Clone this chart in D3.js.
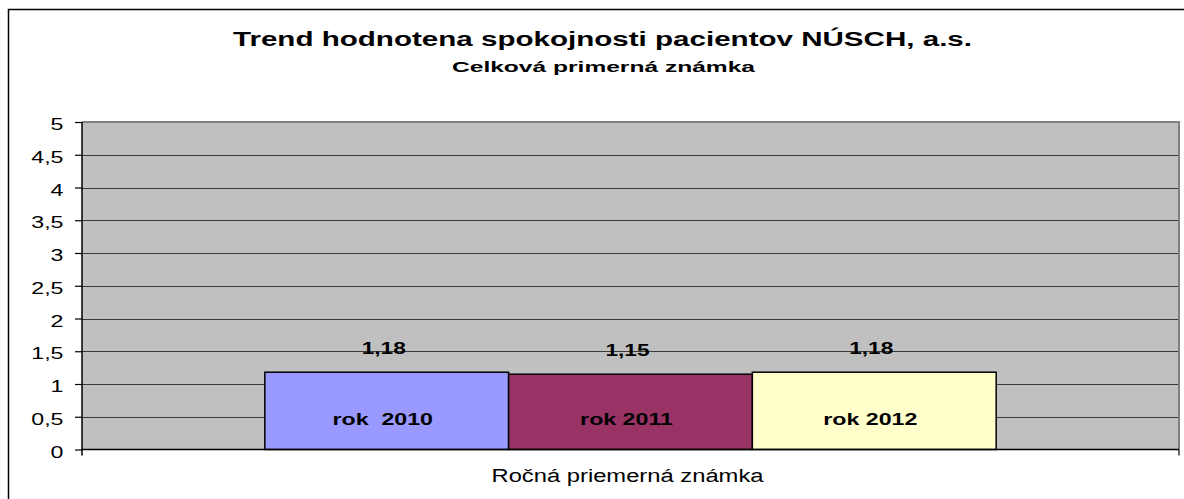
<!DOCTYPE html>
<html>
<head>
<meta charset="utf-8">
<script src="https://cdn.jsdelivr.net/npm/d3@7"></script>
<style>
  html, body { margin: 0; padding: 0; background: #fff; }
  svg { display: block; font-family: "Liberation Sans", Arial, sans-serif; }
</style>
</head>
<body>
<svg id="chart" width="1184" height="499"></svg>
<script>
// ---- data ----
const titleText = "Trend hodnotena spokojnosti pacientov NÚSCH, a.s.";
const subtitleText = "Celková primerná známka";
const categories = ["Ročná priemerná známka"];
const seriesNames = ["rok  2010", "rok 2011", "rok 2012"];
const seriesValues = [1.18, 1.15, 1.18];
const valueLabels = ["1,18", "1,15", "1,18"];
const seriesColors = ["#9999FF", "#993366", "#FFFFCC"];
const tickValues = [0, 0.5, 1, 1.5, 2, 2.5, 3, 3.5, 4, 4.5, 5];
const tickLabels = ["0", "0,5", "1", "1,5", "2", "2,5", "3", "3,5", "4", "4,5", "5"];

const svg = d3.select("#chart");
const W = 1184, H = 499;
const plot = { left: 82, right: 1179, top: 122, bottom: 449.5 };

// outer border
svg.append("rect")
  .attr("x", 8.5).attr("y", 9.5)
  .attr("width", 1190).attr("height", 500)
  .attr("fill", "#fff").attr("stroke", "#000").attr("stroke-width", 1.5);

// scales
const y = d3.scaleLinear().domain([0, 5]).range([plot.bottom, plot.top]);
const x0 = d3.scaleBand().domain(categories).range([plot.left, plot.right])
  .paddingInner(0).paddingOuter(0.25);
const x1 = d3.scaleBand().domain(seriesNames).range([0, x0.bandwidth()]).padding(0);

// plot background
svg.append("rect")
  .attr("x", plot.left).attr("y", plot.top)
  .attr("width", plot.right - plot.left).attr("height", plot.bottom - plot.top)
  .attr("fill", "#C0C0C0");

// gridlines
svg.append("g").selectAll("line")
  .data(tickValues.filter(v => v > 0 && v < 5))
  .join("line")
  .attr("x1", plot.left).attr("x2", plot.right)
  .attr("y1", d => Math.round(y(d)) + 0.5).attr("y2", d => Math.round(y(d)) + 0.5)
  .attr("stroke", "#3a3a3a").attr("stroke-width", 1.2);

// plot border (top/right gray)
svg.append("path")
  .attr("d", `M${plot.left},${plot.top}H${plot.right}V${plot.bottom}`)
  .attr("fill", "none").attr("stroke", "#808080").attr("stroke-width", 2);

// bars
const gBars = svg.append("g");
gBars.selectAll("rect")
  .data(seriesNames.map((s, i) => ({ s, v: seriesValues[i], c: seriesColors[i], lab: valueLabels[i] })))
  .join("rect")
  .attr("x", d => x0(categories[0]) + x1(d.s))
  .attr("y", d => y(d.v))
  .attr("width", x1.bandwidth())
  .attr("height", d => plot.bottom - y(d.v))
  .attr("fill", d => d.c)
  .attr("stroke", "#000").attr("stroke-width", 1.5);

// y axis
const yAxis = d3.axisLeft(y).tickValues(tickValues)
  .tickFormat((d, i) => tickLabels[i]).tickSize(7).tickPadding(0);
const gy = svg.append("g").attr("transform", `translate(${plot.left},0)`).call(yAxis);
gy.select(".domain").attr("stroke", "#000").attr("stroke-width", 1.5)
  .attr("d", `M0,${plot.top}V${plot.bottom + 6}`);
gy.selectAll(".tick line").attr("stroke", "#000").attr("stroke-width", 1.2);
gy.selectAll(".tick text").remove();
gy.selectAll(".tick").append("g")
  .attr("transform", "translate(-18.5,7.5) scale(1.45,1)")
  .append("text")
  .attr("text-anchor", "end")
  .attr("font-size", 16)
  .attr("fill", "#000")
  .text((d, i) => tickLabels[i]);

// x axis
const xAxis = d3.axisBottom(x0).tickSize(0).tickFormat(() => "");
const gx = svg.append("g").attr("transform", `translate(0,${plot.bottom})`).call(xAxis);
gx.select(".domain").attr("stroke", "#000").attr("stroke-width", 1.5)
  .attr("d", `M${plot.left},0H${plot.right}`);
gx.selectAll(".tick").remove();
gx.append("line").attr("x1", plot.right).attr("x2", plot.right)
  .attr("y1", 0).attr("y2", 6).attr("stroke", "#000").attr("stroke-width", 1.2);

// value labels
svg.append("g").selectAll("g")
  .data(seriesNames.map((s, i) => ({ s, v: seriesValues[i], lab: valueLabels[i] })))
  .join("g")
  .attr("transform", d => `translate(${x0(categories[0]) + x1(d.s) + x1.bandwidth() / 2 - 3},${y(d.v) - 18}) scale(1.42,1)`)
  .append("text")
  .attr("text-anchor", "middle")
  .attr("font-size", 16).attr("font-weight", "bold").attr("fill", "#000")
  .text(d => d.lab);

// series name labels inside bars
svg.append("g").selectAll("g")
  .data(seriesNames)
  .join("g")
  .attr("transform", d => `translate(${x0(categories[0]) + x1(d) + x1.bandwidth() / 2 - 4},${y(0) - 24.5}) scale(1.45,1)`)
  .append("text")
  .attr("text-anchor", "middle")
  .attr("font-size", 16).attr("font-weight", "bold").attr("fill", "#000")
  .style("white-space", "pre")
  .text(d => d);

// category axis title
svg.append("text")
  .attr("x", 627.5).attr("y", 482)
  .attr("text-anchor", "middle")
  .attr("font-size", 18).attr("fill", "#000")
  .attr("textLength", 272).attr("lengthAdjust", "spacingAndGlyphs")
  .text(categories[0]);

// titles
svg.append("text")
  .attr("x", 602.5).attr("y", 46)
  .attr("text-anchor", "middle")
  .attr("font-size", 20).attr("font-weight", "bold").attr("fill", "#000")
  .attr("textLength", 739).attr("lengthAdjust", "spacingAndGlyphs")
  .text(titleText);
svg.append("text")
  .attr("x", 603.5).attr("y", 72)
  .attr("text-anchor", "middle")
  .attr("font-size", 15).attr("font-weight", "bold").attr("fill", "#000")
  .attr("textLength", 303).attr("lengthAdjust", "spacingAndGlyphs")
  .text(subtitleText);
</script>
</body>
</html>
